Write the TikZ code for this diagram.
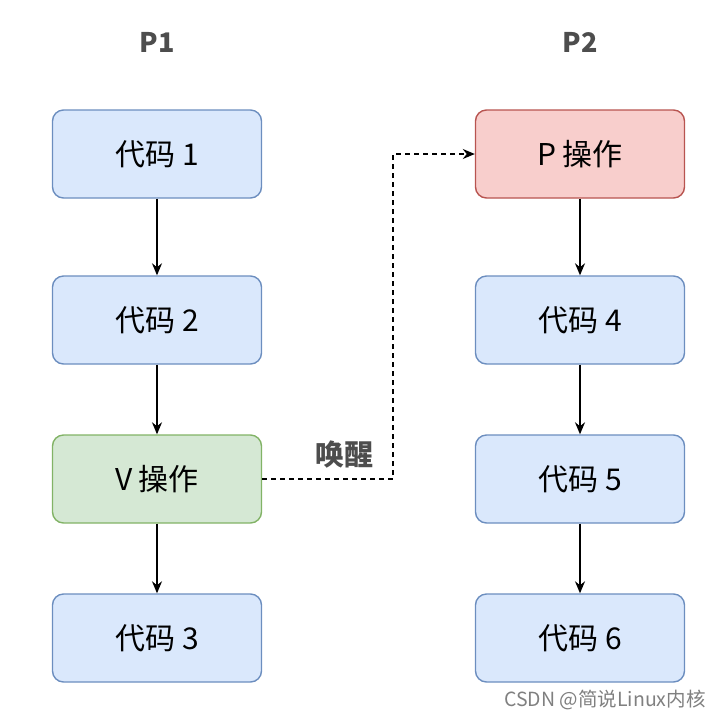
\documentclass[tikz,border=0pt]{standalone}
\usepackage{fontspec}
\setmainfont{Noto Sans CJK SC}
\usetikzlibrary{arrows.meta}

\definecolor{codefill}{HTML}{DAE8FC}
\definecolor{codeline}{HTML}{6C8EBF}
\definecolor{vfill}{HTML}{D5E8D4}
\definecolor{vline}{HTML}{82B366}
\definecolor{pfill}{HTML}{F8CECC}
\definecolor{pline}{HTML}{B85450}
\definecolor{labelgray}{HTML}{4D4D4D}

\tikzset{
  code/.style={draw=codeline, fill=codefill, rounded corners=11pt,
    line width=1.4pt, minimum width=209pt, minimum height=88pt,
    font=\fontsize{30}{32}\selectfont},
  vop/.style={code, draw=vline, fill=vfill},
  pop/.style={code, draw=pline, fill=pfill},
  title/.style={font=\fontsize{27}{29}\selectfont\bfseries, text=labelgray},
}

\begin{document}
\begin{tikzpicture}[x=1pt, y=1pt, line width=1.5pt,
    >={Stealth[length=12pt,width=10pt]}]
\useasboundingbox (0,0) rectangle (720,-718);
\matrix[column sep={423pt,between origins},
        row sep={159pt,between origins},
        matrix anchor=T1.center] at (157,-42)
{ \node[title](T1) {P1}; & \node[title](T2) {P2}; \\[-47pt]
  \node[code](A) {代码 1}; & \node[pop](P) {P 操作}; \\[7pt]
  \node[code](B) {代码 2}; & \node[code](D) {代码 4}; \\
  \node[vop](V)  {V 操作}; & \node[code](E) {代码 5}; \\
  \node[code](C) {代码 3}; & \node[code](F) {代码 6}; \\};
\draw[->] (A) -- (B);
\draw[->] (B) -- (V);
\draw[->] (V) -- (C);
\draw[->] (P) -- (D);
\draw[->] (D) -- (E);
\draw[->] (E) -- (F);
\draw[->, dashed, dash pattern=on 5pt off 4pt] (V.east) -- ++(131,0)
  node[pos=0.63, above=7pt, font=\fontsize{29}{31}\selectfont\bfseries,
       text=labelgray] (W) {唤醒} |- (P);
\node[text=gray, font=\fontsize{19.5}{21}\selectfont] (M) at (605,-700)
  {CSDN @简说Linux内核};
\end{tikzpicture}
\end{document}
